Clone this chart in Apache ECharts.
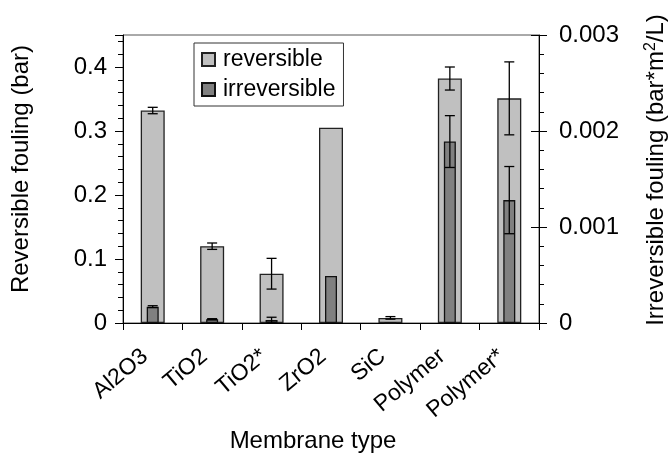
<!DOCTYPE html>
<html>
<head>
<meta charset="utf-8">
<script src="https://cdn.jsdelivr.net/npm/echarts@6/dist/echarts.min.js"></script>
<style>
  html, body { margin: 0; padding: 0; background: #fff; }
  #chart { width: 670px; height: 457px; }
</style>
</head>
<body>
<div id="chart"></div>
<script>
const categories = ["Al2O3", "TiO2", "TiO2*", "ZrO2", "SiC", "Polymer", "Polymer*"];
const reversible = [0.332, 0.120, 0.077, 0.305, 0.008, 0.382, 0.351];
const reversibleErr = [0.005, 0.005, 0.024, 0, 0.002, 0.018, 0.057];
const irreversible = [0.00017, 0.00004, 0.00003, 0.00049, 0, 0.00189, 0.00128];
const irreversibleErr = [0.00001, 0.000005, 0.00003, 0, 0, 0.00027, 0.00035];

const FONT = "Liberation Sans";

function errorData(values, errs) {
  const out = [];
  values.forEach((v, i) => {
    if (errs[i] > 0) out.push([i, v - errs[i], v + errs[i]]);
  });
  return out;
}

function errorBarItem(params, api) {
  const x = api.value(0);
  const lo = api.coord([x, api.value(1)]);
  const hi = api.coord([x, api.value(2)]);
  const half = 5;
  const style = { stroke: "#000", lineWidth: 1.3 };
  return {
    type: "group",
    children: [
      { type: "line", shape: { x1: lo[0], y1: lo[1], x2: hi[0], y2: hi[1] }, style },
      { type: "line", shape: { x1: lo[0] - half, y1: lo[1], x2: lo[0] + half, y2: lo[1] }, style },
      { type: "line", shape: { x1: hi[0] - half, y1: hi[1], x2: hi[0] + half, y2: hi[1] }, style },
    ],
  };
}

const chart = echarts.init(document.getElementById("chart"));

const axisLine = { show: true, lineStyle: { color: "#000", width: 1 } };
const labelStyle = { color: "#000", fontSize: 24, fontFamily: FONT };
const nameStyle = { color: "#000", fontSize: 24, fontFamily: FONT };

chart.setOption({
  animation: false,
  grid: {
    left: 123, right: 131, top: 35, bottom: 134,
    outerBoundsMode: "none",
    show: true, borderColor: "#555", borderWidth: 1, backgroundColor: "transparent",
  },
  legend: {
    data: ["reversible", "irreversible"],
    orient: "vertical",
    left: 194, top: 43,
    padding: [5, 8, 5, 7],
    icon: "rect",
    itemWidth: 13, itemHeight: 13, itemGap: 7,
    borderColor: "#333", borderWidth: 1, borderRadius: 0,
    backgroundColor: "#fff",
    textStyle: { color: "#000", fontSize: 23, fontFamily: FONT, padding: [0, 0, 0, 3] },
  },
  xAxis: [
    {
      type: "category",
      data: categories,
      position: "bottom",
      axisLine,
      axisTick: { show: true, length: 7, lineStyle: { color: "#000" } },
      axisLabel: { ...labelStyle, fontSize: 23, rotate: 40, margin: 24, interval: 0, padding: [0, 10, 0, 0] },
      name: "Membrane type",
      nameLocation: "middle",
      nameGap: 102,
      nameTextStyle: { ...nameStyle, padding: [0, 36, 0, 0] },
    },
    { type: "category", data: categories, show: false },
  ],
  yAxis: [
    {
      type: "value",
      min: 0, max: 0.45, interval: 0.1,
      position: "left",
      axisLine,
      axisTick: { show: true, length: 8, lineStyle: { color: "#000" } },
      minorTick: { show: true, splitNumber: 5, length: 5, lineStyle: { color: "#000" } },
      splitLine: { show: false },
      axisLabel: { ...labelStyle, margin: 16, showMaxLabel: false },
      name: "Reversible fouling (bar)",
      nameLocation: "middle",
      nameRotate: 90,
      nameGap: 90,
      nameTextStyle: { ...nameStyle, padding: [0, 0, 0, 20] },
    },
    {
      type: "value",
      min: 0, max: 0.003, interval: 0.001,
      position: "right",
      axisLine,
      axisTick: { show: true, length: 8, lineStyle: { color: "#000" } },
      minorTick: { show: true, splitNumber: 5, length: 5, lineStyle: { color: "#000" } },
      splitLine: { show: false },
      axisLabel: { ...labelStyle, margin: 20 },
      name: "Irreversible fouling (bar*m{sup|2}/L)",
      nameLocation: "middle",
      nameRotate: 90,
      nameGap: 104,
      nameTextStyle: { ...nameStyle, padding: [0, 0, 0, 18], rich: { sup: { fontSize: 16, fontFamily: FONT, color: "#000", verticalAlign: "top", padding: [0, 0, 10, 0] } } },
    },
    {
      type: "value",
      min: 0, max: 0.003, interval: 0.001,
      position: "right",
      axisLine: { show: false },
      axisTick: { show: true, inside: true, length: 8, lineStyle: { color: "#000" } },
      axisLabel: { show: false },
      splitLine: { show: false },
    },
  ],
  series: [
    {
      name: "reversible",
      type: "bar",
      xAxisIndex: 0, yAxisIndex: 0,
      barWidth: 24,
      data: reversible,
      itemStyle: { color: "#c0c0c0", borderColor: "#222", borderWidth: 1.3 },
    },
    {
      name: "irreversible",
      type: "bar",
      xAxisIndex: 1, yAxisIndex: 1,
      barWidth: 12,
      data: irreversible,
      itemStyle: { color: "#808080", borderColor: "#111", borderWidth: 1.3 },
    },
    {
      type: "custom",
      xAxisIndex: 0, yAxisIndex: 0,
      renderItem: errorBarItem,
      encode: { x: 0, y: [1, 2] },
      data: errorData(reversible, reversibleErr),
      z: 5,
    },
    {
      type: "custom",
      xAxisIndex: 1, yAxisIndex: 1,
      renderItem: errorBarItem,
      encode: { x: 0, y: [1, 2] },
      data: errorData(irreversible, irreversibleErr),
      z: 5,
    },
  ],
});
</script>
</body>
</html>
